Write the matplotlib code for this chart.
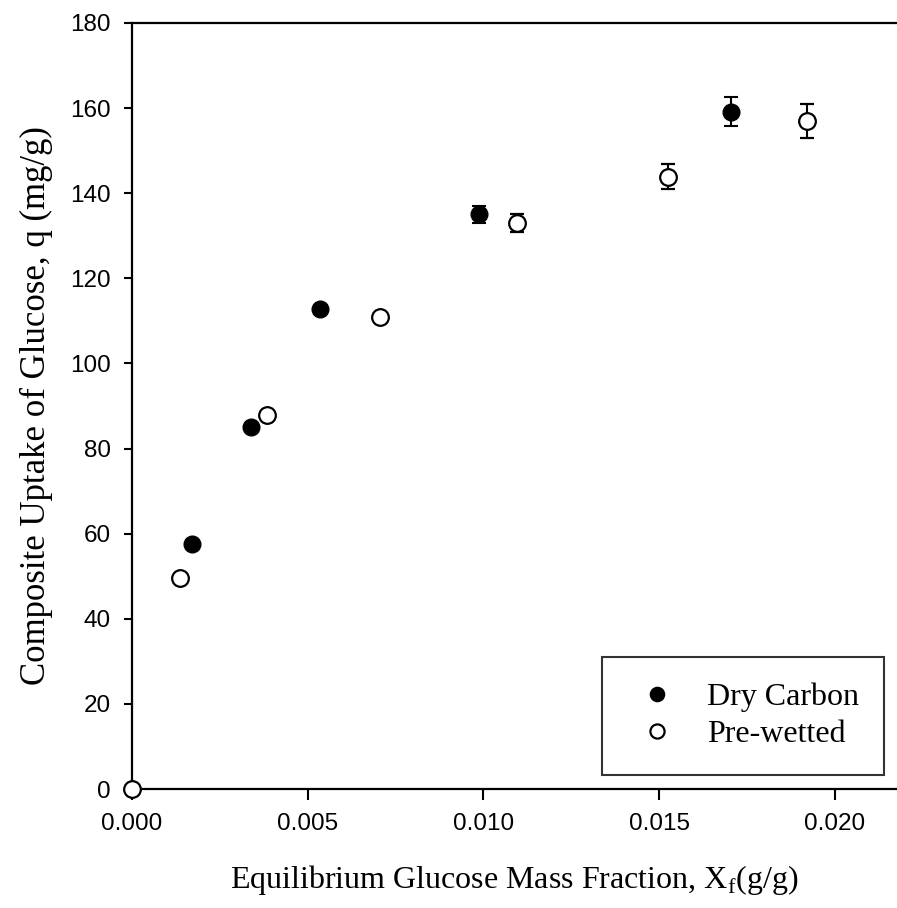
import matplotlib
matplotlib.use('Agg')
import matplotlib.pyplot as plt

# Dry carbon
x_dry = [0.00172, 0.00339, 0.00535, 0.00988, 0.01706]
q_dry = [57.5, 85.0, 112.7, 135.0, 159.1]
err_dry = [0.0, 0.0, 0.0, 2.0, 3.4]

# Pre-wetted
x_wet = [0.0, 0.00137, 0.00384, 0.00706, 0.01096, 0.01526, 0.01922]
q_wet = [0.0, 49.7, 88.0, 110.9, 133.0, 143.9, 157.0]
err_wet = [0.0, 0.0, 0.0, 0.0, 2.2, 3.0, 4.0]

xticks = [0.000, 0.005, 0.010, 0.015, 0.020]
xticklabels = ['0.000', '0.005', '0.010', '0.015', '0.020']
yticks = list(range(0, 181, 20))

plt.rcParams['font.family'] = 'Liberation Sans'

fig = plt.figure(figsize=(8.97, 9.08), dpi=100)
ax = fig.add_axes([0.1472, 0.131, 0.8528, 0.8437])

ax.errorbar(x_dry, q_dry, yerr=err_dry, fmt='o', color='black', ms=12,
            mfc='black', mec='black', ecolor='black', elinewidth=1.5,
            capsize=4.7, capthick=1.5, label='Dry Carbon', clip_on=False, zorder=3)
ax.errorbar(x_wet, q_wet, yerr=err_wet, fmt='o', color='black', ms=12,
            mfc='white', mec='black', mew=1.6, ecolor='black', elinewidth=1.5,
            capsize=4.7, capthick=1.5, label='Pre-wetted', clip_on=False, zorder=3)

ax.set_xlim(0, 0.02177)
ax.set_ylim(0, 180)
ax.set_xticks(xticks)
ax.set_xticklabels(xticklabels)
ax.set_yticks(yticks)
ax.tick_params(axis='x', direction='out', length=8, width=1.5, labelsize=17.5, pad=9.5)
ax.tick_params(axis='y', direction='out', length=5.5, width=1.5, labelsize=17.5, pad=10)

ax.spines['right'].set_visible(False)
for s in ['left', 'bottom', 'top']:
    ax.spines[s].set_linewidth(1.6)

serif = 'Liberation Serif'
ax.set_xlabel('Equilibrium Glucose Mass Fraction, X$_\\mathregular{f}$(g/g)',
              family=serif, fontsize=23, labelpad=20)
ax.set_ylabel('Composite Uptake of Glucose, q (mg/g)', family=serif,
              fontsize=25, labelpad=12)

handles, labels = ax.get_legend_handles_labels()
handles = [h[0] for h in handles]
leg = ax.legend(handles, labels, loc='upper left', bbox_to_anchor=(0.671, 0.2764),
                bbox_transform=fig.transFigure, prop={'family': serif, 'size': 23},
                frameon=True, fancybox=False, edgecolor='black', borderpad=0.8,
                handletextpad=0.63, labelspacing=0.25, markerscale=0.85,
                borderaxespad=0, handlelength=1.85)
leg.get_frame().set_linewidth(1.5)

fig.savefig('out.png', dpi=100)
